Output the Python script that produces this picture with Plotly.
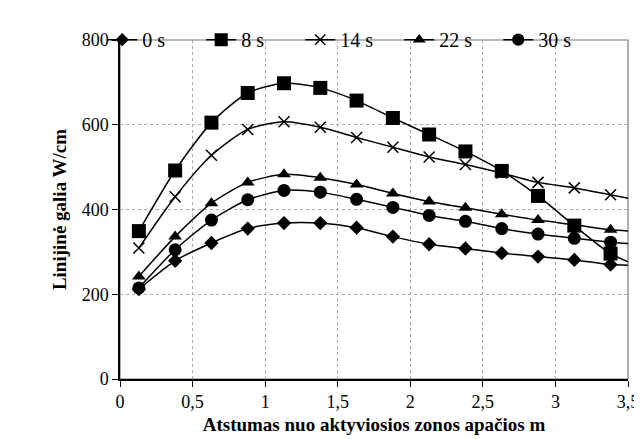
import plotly.graph_objects as go

# distance from bottom of active zone, m (last value is the line run-out past the axis end)
x_m = [0.13, 0.38, 0.63, 0.88, 1.13, 1.38, 1.63, 1.88, 2.13, 2.38, 2.63, 2.88, 3.13, 3.38, 3.6]

s_0 = [212, 279, 321, 355, 368, 368, 357, 336, 318, 308, 297, 289, 281, 270, 268]
s_8 = [349, 492, 605, 675, 698, 687, 657, 616, 577, 537, 491, 432, 362, 296, 263]
s_14 = [309, 430, 528, 589, 607, 594, 570, 547, 524, 506, 486, 464, 451, 435, 420]
s_22 = [242, 336, 415, 464, 483, 475, 459, 438, 419, 404, 389, 375, 364, 352, 348]
s_30 = [215, 305, 375, 423, 445, 441, 424, 405, 386, 372, 355, 342, 332, 323, 317]

names = ["0 s", "8 s", "14 s", "22 s", "30 s"]
series = [s_0, s_8, s_14, s_22, s_30]
symbols = ["diamond", "square", "x-thin", "triangle-up", "circle"]
msizes = [11, 14, 11, 12, 13]

x_ticks = [0, 0.5, 1, 1.5, 2, 2.5, 3, 3.5]
x_labels = ["0", "0,5", "1", "1,5", "2", "2,5", "3", "3,5"]
y_ticks = [0, 200, 400, 600, 800]

SERIF = "Liberation Serif"

fig = go.Figure()
for name, ys, sym, ms in zip(names, series, symbols, msizes):
    n = len(ys)
    fig.add_trace(go.Scatter(
        x=x_m, y=ys, name=name, mode="lines+markers",
        line=dict(color="black", width=1.5, shape="spline", smoothing=0.7),
        marker=dict(symbol=sym, size=[ms] * (n - 1) + [0], color="black", opacity=1,
                    line=dict(color="black", width=1.5 if sym == "x-thin" else 0)),
    ))

fig.add_shape(type="rect", xref="paper", yref="paper", x0=0, y0=0, x1=1, y1=1,
              line=dict(color="#777777", width=1.2), layer="below")

fig.update_layout(
    width=642, height=439,
    margin=dict(l=112, r=22, t=17, b=68),
    paper_bgcolor="white", plot_bgcolor="white",
    font=dict(family=SERIF, size=18, color="black"),
    showlegend=True,
    legend=dict(orientation="h", x=-0.035, y=1.001, xanchor="left", yanchor="middle",
                bgcolor="rgba(0,0,0,0)",
                font=dict(size=20, family=SERIF, color="black"),
                entrywidth=54, entrywidthmode="pixels", itemwidth=30, tracegroupgap=0),
    xaxis=dict(
        range=[0, 3.5], tickvals=x_ticks, ticktext=x_labels,
        showline=True, linecolor="black", linewidth=1.5,
        ticks="outside", ticklen=6, tickcolor="black", tickwidth=1.2,
        showgrid=True, gridcolor="#aaaaaa", griddash="dot", gridwidth=1,
        zeroline=False,
        tickfont=dict(family=SERIF, size=18, color="black"),
        title=dict(text="<b>Atstumas nuo aktyviosios zonos apačios m</b>",
                   font=dict(size=19, family=SERIF, color="black"), standoff=6),
    ),
    yaxis=dict(
        range=[0, 800], tickvals=y_ticks,
        showline=True, linecolor="black", linewidth=1.5,
        ticks="outside", ticklen=6, tickcolor="black", tickwidth=1.2,
        showgrid=True, gridcolor="#aaaaaa", griddash="dot", gridwidth=1,
        zeroline=False,
        tickfont=dict(family=SERIF, size=18, color="black"),
        title=dict(text="<b>Linijinė galia W/cm</b>",
                   font=dict(size=19, family=SERIF, color="black"), standoff=10),
    ),
)

fig.write_html("out.html")
